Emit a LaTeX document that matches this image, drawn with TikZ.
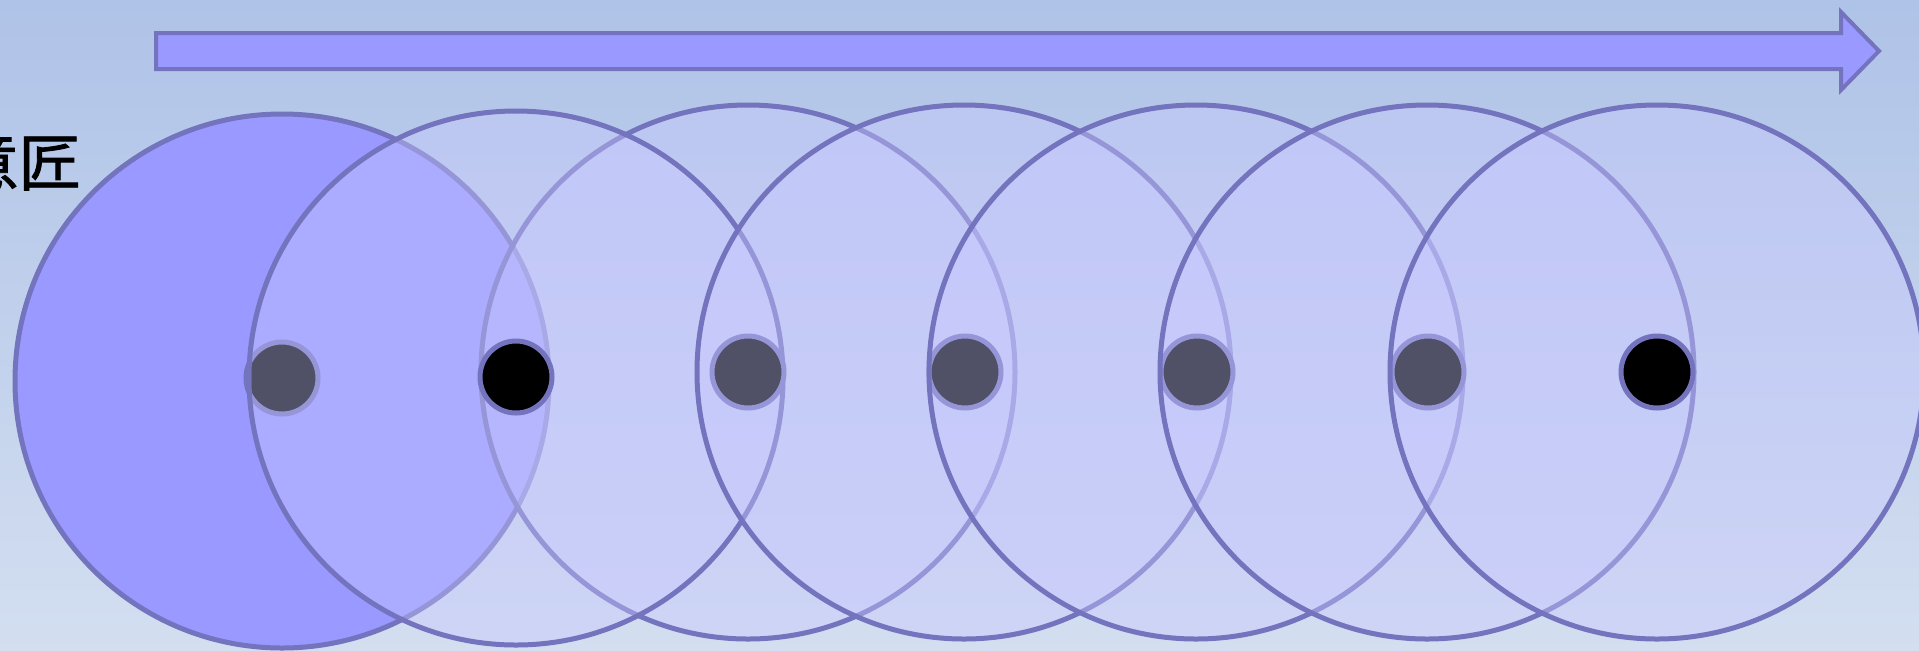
\documentclass[tikz,border=0pt]{standalone}
\usepackage{fontspec}
\newfontfamily\jpfont[FakeBold=1.3]{Noto Sans CJK JP}
\definecolor{edgec}{RGB}{115,115,190}
\definecolor{solidfill}{RGB}{153,153,255}
\definecolor{veil}{RGB}{200,200,255}
\definecolor{bgtop}{RGB}{175,195,232}
\definecolor{bgbot}{RGB}{211,222,240}
\tikzset{
  wave/.style={circle, draw=edgec, line width=2.5pt, fill=veil, fill opacity=0.4, draw opacity=1, minimum size=267pt, inner sep=0pt},
  firstwave/.style={wave, fill=solidfill, fill opacity=1},
  ball/.style={circle, draw=edgec, line width=2.5pt, fill=black, minimum size=36pt, inner sep=0pt},
  arrowbody/.style={draw=edgec, fill=solidfill, line width=2pt, line join=miter},
  lbl/.style={inner sep=0pt, font=\jpfont\fontsize{31pt}{31pt}\selectfont}
}
\begin{document}
\begin{tikzpicture}[x=0.5pt,y=-0.5pt]
\useasboundingbox (0,0) rectangle (1919,650);
\shade[top color=bgtop, bottom color=bgbot] (0,0) rectangle (1919,650);
\begin{scope}
\clip (0,0) rectangle (1919,650);
\draw[arrowbody] (156,33) -- (1841,33) -- (1841,12) -- (1879,51) -- (1841,90) -- (1841,69) -- (156,69) -- cycle;
\node[lbl, anchor=east] (label) at (81,162) {意匠};
\node[firstwave] (c1) at (282,381) {};
\node[ball] (d1) at (282,378) {};
\node[wave] (c3) at (748,372) {};
\node[wave] (c2) at (516,378) {};
\node[ball] (d3) at (748,372) {};
\node[ball] (d2) at (516,377) {};
\node[wave] (c4) at (964,372) {};
\node[ball] (d4) at (965,372) {};
\node[wave] (c5) at (1196,372) {};
\node[ball] (d5) at (1197,372) {};
\node[wave] (c6) at (1427,372) {};
\node[ball] (d6) at (1428,372) {};
\node[wave] (c7) at (1657,372) {};
\node[ball] (d7) at (1657,372) {};
\end{scope}
\end{tikzpicture}
\end{document}
